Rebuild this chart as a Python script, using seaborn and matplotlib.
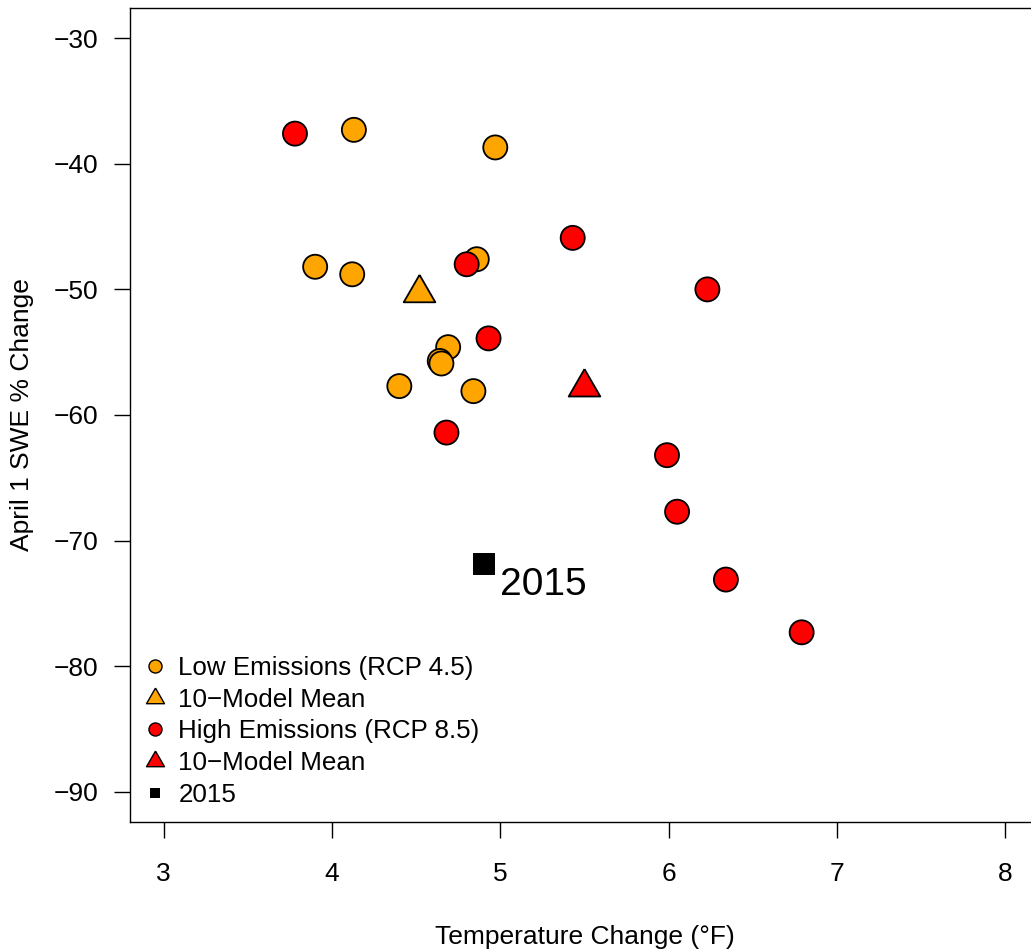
import numpy as np
import pandas as pd
import matplotlib
matplotlib.use('Agg')
import matplotlib.pyplot as plt
from matplotlib.lines import Line2D
from matplotlib.markers import MarkerStyle
import seaborn as sns

# values
lowX = [4.13, 4.97, 3.90, 4.12, 4.86, 4.69, 4.64, 4.65, 4.40, 4.84]
lowY = [-37.3, -38.7, -48.2, -48.8, -47.6, -54.6, -55.7, -55.9, -57.7, -58.1]
highX = [3.78, 4.80, 5.43, 4.93, 4.68, 5.99, 6.05, 6.34, 6.79, 6.23]
highY = [-37.6, -48.0, -45.9, -53.9, -61.4, -63.2, -67.7, -73.1, -77.3, -50.0]
meanX = [4.52, 5.50]
meanY = [-50.3, -57.8]
obsX = [4.90]
obsY = [-71.9]
scenarios = ['Low Emissions (RCP 4.5)', 'High Emissions (RCP 8.5)']
colors = ['#FFA500', '#FF0000']

plt.rcParams['font.family'] = ['Liberation Sans', 'DejaVu Sans']

df = pd.DataFrame({
    'temp': lowX + highX,
    'swe': lowY + highY,
    'scenario': [scenarios[0]] * len(lowX) + [scenarios[1]] * len(highX),
})
means = pd.DataFrame({'temp': meanX, 'swe': meanY, 'scenario': scenarios})

#R style equilateral triangle centred on its centroid
tri = MarkerStyle([(0, 1), (-0.866, -0.5), (0.866, -0.5), (0, 1)])

fig = plt.figure(figsize=(10.31, 9.5), dpi=100)
ax = fig.add_axes([130/1031, 128/950, 909/1031, 814/950])

sns.scatterplot(data=df, x='temp', y='swe', hue='scenario', palette=colors,
                s=300, edgecolor='black', linewidth=1.3, legend=False, ax=ax, zorder=3)
sns.scatterplot(data=means, x='temp', y='swe', hue='scenario', palette=colors,
                marker=tri, s=692, edgecolor='black', linewidth=1.3, legend=False, ax=ax, zorder=4)
sns.scatterplot(x=obsX, y=obsY, color='black', marker='s', s=250, linewidth=0, ax=ax, zorder=4)
ax.annotate('2015', (obsX[0], obsY[0]), xytext=(12, -15), textcoords='offset points',
            fontsize=28, ha='left', va='center')

ax.set_xlim(2.8, 8.2)
ax.set_ylim(-92.4, -27.6)
ax.set_xticks(range(3, 9))
ax.set_yticks(range(-90, -29, 10))
ax.tick_params(labelsize=19, length=11.5, width=1, pad=11, colors='black')
ax.tick_params(axis='x', pad=17)
for s in ax.spines.values():
    s.set_linewidth(1.0)
    s.set_color('black')

ax.set_xlabel('Temperature Change (°F)', fontsize=19)
ax.set_ylabel('April 1 SWE % Change', fontsize=19)
ax.xaxis.set_label_coords(0.5, -0.1266)
ax.yaxis.set_label_coords(-0.106, 0.5)

triSmall = MarkerStyle([(0, 1), (-0.866, -0.5), (0.866, -0.5), (0, 1)])
handles = [
    Line2D([], [], ls='', marker='o', markersize=9.4, markerfacecolor=colors[0], markeredgecolor='black', markeredgewidth=1),
    Line2D([], [], ls='', marker=triSmall, markersize=15, markerfacecolor=colors[0], markeredgecolor='black', markeredgewidth=1),
    Line2D([], [], ls='', marker='o', markersize=9.4, markerfacecolor=colors[1], markeredgecolor='black', markeredgewidth=1),
    Line2D([], [], ls='', marker=triSmall, markersize=15, markerfacecolor=colors[1], markeredgecolor='black', markeredgewidth=1),
    Line2D([], [], ls='', marker='s', markersize=6.5, markerfacecolor='black', markeredgewidth=0),
]
labels = ['Low Emissions (RCP 4.5)', '10\u2212Model Mean', 'High Emissions (RCP 8.5)',
          '10\u2212Model Mean', '2015']
ax.legend(handles, labels, loc='lower left', bbox_to_anchor=(0.0132, 0.0184), frameon=False,
          fontsize=18.7, borderpad=0, handlelength=1.0, handletextpad=0.4, labelspacing=0.3,
          borderaxespad=0)

fig.savefig('out.png', dpi=100)
